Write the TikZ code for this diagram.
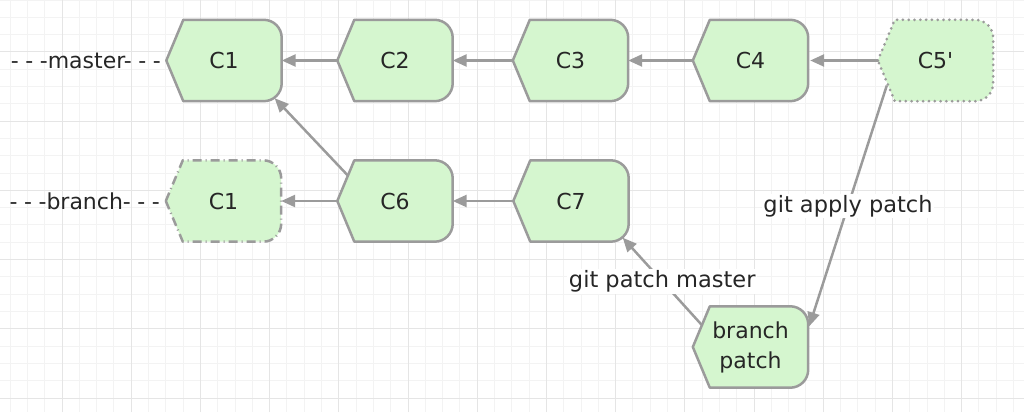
\documentclass[tikz,border=0pt]{standalone}
\usepackage{fontspec}
\setmainfont{DejaVu Sans}
\usepackage{xcolor}
\usetikzlibrary{positioning,arrows.meta,backgrounds,calc}
\definecolor{commitfill}{RGB}{213,246,207}
\definecolor{linegray}{RGB}{155,155,155}
\definecolor{textgray}{RGB}{38,38,38}
\definecolor{gridmajor}{RGB}{229,229,229}
\definecolor{gridminor}{RGB}{243,243,243}
\tikzset{
  commit/.style={minimum width=115pt, minimum height=81pt, inner sep=0pt, align=center,
    text=textgray, font=\fontsize{22}{30}\selectfont},
  commitline/.style={draw=linegray, fill=commitfill, line width=2.5pt, line join=round},
  conn/.style={draw=linegray, line width=2.5pt, -{Triangle[length=14pt,width=12pt]}},
  gitlabel/.style={fill=white, text=textgray, inner sep=1.5pt, font=\fontsize{22.5}{30}\selectfont},
  reflabel/.style={text=textgray, inner sep=0pt, font=\fontsize{22}{30}\selectfont},
}
\newcommand{\commitbox}[2][]{%
  \draw[commitline,#1] (#2.west) -- ([xshift=17pt]#2.north west)
    -- ([xshift=-18pt]#2.north east) arc[start angle=90,end angle=0,radius=18pt]
    -- ([yshift=18pt]#2.south east) arc[start angle=0,end angle=-90,radius=18pt]
    -- ([xshift=17pt]#2.south west) -- cycle;}
\newcommand{\refdash}{-\kern6.5pt-\kern6.5pt-}

\begin{document}
\begin{tikzpicture}[x=1pt, y=1pt]
    \useasboundingbox (0,0) rectangle (1024,412);

    \node[commit] (c1) at (224, 351.5) {C1};
    \node[commit] (c2) at (395, 351.5) {C2};
    \node[commit] (c3) at (570.5, 351.5) {C3};
    \node[commit] (c4) at (750.5, 351.5) {C4};
    \node[commit] (c5) at (935.5, 351.5) {C5\textquotesingle};

    \node[commit] (b1) at (223.5, 211) {C1};
    \node[commit] (c6) at (395, 211) {C6};
    \node[commit] (c7) at (571, 211) {C7};
    \node[commit] (patch) at (750.5, 65) {branch\\patch};

    \node[reflabel, anchor=east] (master) at (161, 351.5) {\refdash master\refdash};
    \node[reflabel, anchor=east] (branch) at (160, 211) {\refdash branch\refdash};

    \begin{scope}[on background layer]
        \draw[gridminor, line width=1pt, xshift=-7.2pt, yshift=14pt, step=17.3pt]
            (7.2pt,-14pt) grid (1031.2pt,398pt);
        \draw[gridmajor, line width=1pt, xshift=-7.2pt, yshift=14pt, step=69.2pt]
            (7.2pt,-14pt) grid (1031.2pt,398pt);
        \commitbox{c1}
        \commitbox{c2}
        \commitbox{c3}
        \commitbox{c4}
        \commitbox[line width=3pt, line cap=round, dash pattern={on 0pt off 5.8pt}]{c5}
        \commitbox[dash pattern={on 9pt off 4pt on 1pt off 4pt}]{b1}
        \commitbox{c6}
        \commitbox{c7}
        \commitbox{patch}
    \end{scope}

    \draw[conn] (c2.west) -- (c1.east);
    \draw[conn] (c3.west) -- (c2.east);
    \draw[conn] (c4.west) -- (c3.east);
    \draw[conn] (c5.west) -- ([xshift=2pt]c4.east);
    \draw[conn] (c6.west) -- (b1.east);
    \draw[conn] (c7.west) -- (c6.east);
    \draw[conn] ([xshift=11pt,yshift=25pt]c6.west) -- ([xshift=-7pt,yshift=3pt]c1.south east);
    \draw[conn] ([xshift=9pt,yshift=-25pt]c5.west)
        -- node[gitlabel] {git apply patch} ([xshift=1pt,yshift=-20pt]patch.north east);
    \draw[conn] ([xshift=9pt,yshift=22pt]patch.west)
        -- node[gitlabel] {git patch master} ([xshift=-6pt,yshift=4pt]c7.south east);
\end{tikzpicture}
\end{document}
